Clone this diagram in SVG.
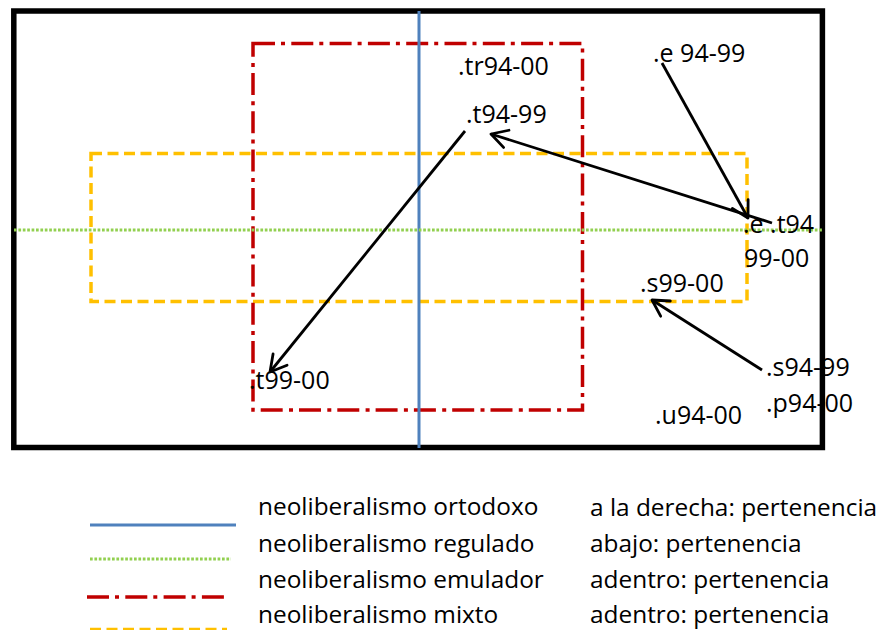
<svg xmlns="http://www.w3.org/2000/svg" width="879" height="630" viewBox="0 0 879 630">
<style>
.lbl{font-family:"Open Sans","Liberation Sans",sans-serif;font-size:25px;fill:#000}
.leg{font-family:"Open Sans","Liberation Sans",sans-serif;font-size:24.4px;fill:#000}
.frame{fill:none;stroke:#000;stroke-width:5.5}
.orto{stroke:#4F81BD;stroke-width:3;fill:none}
.regu{stroke:#92D050;stroke-width:3;stroke-dasharray:2.7 1.7;fill:none}
.emul{stroke:#C00000;stroke-width:3.5;stroke-dasharray:22 6 4 6.3;fill:none}
.mixt{stroke:#FFC000;stroke-width:3.5;stroke-dasharray:11 5.5;fill:none}
.arr{stroke:#000;stroke-width:2.8;fill:none;marker-end:url(#ah)}
</style>
<defs>
<marker id="ah" markerUnits="userSpaceOnUse" orient="auto" refX="0" refY="0" markerWidth="20" markerHeight="20" overflow="visible">
<path d="M-16,-9 L0,0 L-16,9" fill="none" stroke="#000" stroke-width="2.8" stroke-linecap="round" stroke-linejoin="round"/>
</marker>
</defs>
<rect width="879" height="630" fill="#fff"/>
<g id="frame"><rect class="frame" x="13.8" y="11" width="808.6" height="436.5"/></g>
<g id="mixto-region"><rect class="mixt" x="91" y="153.5" width="656" height="148"/></g>
<g id="emulador-region"><rect class="emul" x="253" y="43.5" width="329.5" height="366.5"/></g>
<g id="ortodoxo-axis"><line class="orto" x1="419" y1="11" x2="419" y2="448"/></g>
<g id="regulado-axis"><line class="regu" x1="14" y1="230" x2="822" y2="230"/></g>
<g id="connectors">
<line class="arr" x1="465" y1="131" x2="270" y2="372"/>
<line class="arr" x1="772" y1="223" x2="491" y2="134"/>
<line class="arr" x1="662" y1="63" x2="748" y2="218"/>
<line class="arr" x1="762" y1="370" x2="652" y2="300"/>
</g>
<g id="n-tr94-00"><text class="lbl" x="458" y="75">.tr94-00</text></g>
<g id="n-t94-99"><text class="lbl" x="466" y="123">.t94-99</text></g>
<g id="n-e94-99"><text class="lbl" x="653" y="62">.e 94-99</text></g>
<g id="n-e-t94-99-00"><text class="lbl" x="743" y="233">.e .t94</text><text class="lbl" x="744" y="267">99-00</text></g>
<g id="n-s99-00"><text class="lbl" x="640" y="292">.s99-00</text></g>
<g id="n-s94-99"><text class="lbl" x="766" y="376">.s94-99</text></g>
<g id="n-p94-00"><text class="lbl" x="766" y="412">.p94-00</text></g>
<g id="n-u94-00"><text class="lbl" x="655" y="424">.u94-00</text></g>
<g id="n-t99-00"><text class="lbl" x="249" y="389">.t99-00</text></g>
<g id="legend">
<line class="orto" x1="90" y1="525" x2="236" y2="525"/>
<line class="regu" x1="90" y1="559" x2="231" y2="559"/>
<line class="emul" x1="87" y1="597" x2="224" y2="597" stroke-width="4"/>
<line class="mixt" x1="90" y1="629.5" x2="227" y2="629.5"/>
<text class="leg" x="258" y="515">neoliberalismo ortodoxo</text>
<text class="leg" x="258" y="552">neoliberalismo regulado</text>
<text class="leg" x="258" y="588">neoliberalismo emulador</text>
<text class="leg" x="258" y="623">neoliberalismo mixto</text>
<text class="leg" x="590" y="516">a la derecha: pertenencia</text>
<text class="leg" x="590" y="552">abajo: pertenencia</text>
<text class="leg" x="590" y="588">adentro: pertenencia</text>
<text class="leg" x="590" y="623">adentro: pertenencia</text>
</g>
</svg>
